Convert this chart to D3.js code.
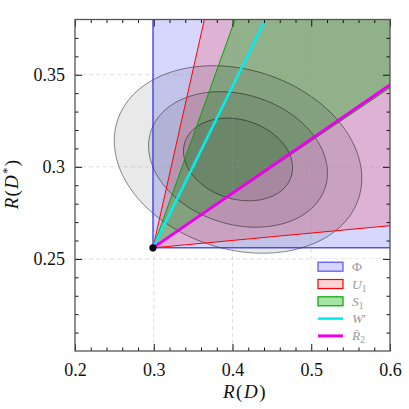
<!DOCTYPE html>
<html>
<head>
<meta charset="utf-8">
<script src="https://cdn.jsdelivr.net/npm/d3@7"></script>
<style>
body { margin: 0; background: #fff; }
</style>
</head>
<body>
<script>
var width = 409, height = 409;
var serif = "'Liberation Serif', 'DejaVu Serif', serif";

// SM prediction (origin of the cones)
var smPoint = [0.299, 0.256];
// cone edges as slopes dR(D*)/dR(D) measured from the SM point
var u1Slopes = [0.040, 1.90];
var s1Slopes = [0.289, 1.19];
var wSlope = 0.868;
var r2Slope = 0.294;

// measurement: mean, sigma, correlation, delta chi2 of the contours
var measMean = [0.407, 0.304];
var measSigma = [0.0457, 0.0148];
var measRho = -0.20;
var chi2Levels = [11.83, 6.18, 2.30];

var xTicks = [0.2, 0.3, 0.4, 0.5, 0.6];
var yTicks = [0.25, 0.3, 0.35];
var xGrid = [0.3, 0.4, 0.5];
var yGrid = [0.25, 0.3, 0.35];

var legendNames = ["Φ", "U", "S", "W", "R\u0304"];
var legendSubs = ["", "1", "1", "′", "2"];

var x = d3.scaleLinear().domain([0.2, 0.6]).range([75, 390]);
var y = d3.scaleLinear().domain([0.2, 0.38]).range([351, 19.5]);

var svg = d3.select("body").append("svg")
    .attr("width", width)
    .attr("height", height);

svg.append("clipPath").attr("id", "plot")
    .append("rect")
    .attr("x", x(0.2)).attr("y", y(0.38))
    .attr("width", x(0.6) - x(0.2)).attr("height", y(0.2) - y(0.38));

var plot = svg.append("g").attr("clip-path", "url(#plot)");

var line = d3.line().x(d => x(d[0])).y(d => y(d[1]));

function quadrant() {
    var o = smPoint;
    return [o, [o[0] + 1, o[1]], [o[0] + 1, o[1] + 1], [o[0], o[1] + 1], o];
}
function cone(s) {
    var o = smPoint;
    return [o, [o[0] + 1, o[1] + s[0]], [o[0] + 1, o[1] + 1], [o[0] + 1 / s[1], o[1] + 1], o];
}
function ray(s) {
    var o = smPoint;
    return [o, [o[0] + 1, o[1] + s]];
}

var regions = [
    {pts: quadrant(), fill: "rgba(0,0,255,0.16)", stroke: "rgba(30,30,240,0.75)", w: 1.5},
    {pts: cone(u1Slopes), fill: "rgba(255,0,0,0.17)", stroke: "#ff0000", w: 1},
    {pts: cone(s1Slopes), fill: "rgba(0,175,0,0.35)", stroke: "#00a800", w: 1}
];

plot.selectAll(".fill")
    .data(regions)
    .enter().append("path")
    .attr("class", "fill")
    .attr("d", d => line(d.pts))
    .attr("fill", d => d.fill)
    .attr("stroke", "none");

// confidence contours
function ellipse(k2) {
    var k = Math.sqrt(k2), pts = [];
    for (var i = 0; i <= 120; i++) {
        var t = i / 120 * 2 * Math.PI;
        pts.push([
            measMean[0] + k * measSigma[0] * Math.cos(t),
            measMean[1] + k * measSigma[1] * (measRho * Math.cos(t) + Math.sqrt(1 - measRho * measRho) * Math.sin(t))
        ]);
    }
    return pts;
}

plot.selectAll(".ell")
    .data(chi2Levels)
    .enter().append("path")
    .attr("class", "ell")
    .attr("d", d => line(ellipse(d)) + "Z")
    .attr("fill", "rgba(0,0,0,0.085)")
    .attr("stroke", "rgba(0,0,0,0.5)")
    .attr("stroke-width", 0.9);

// grid
var grid = plot.append("g");
grid.selectAll(".gx").data(xGrid).enter().append("line")
    .attr("x1", d => x(d)).attr("x2", d => x(d))
    .attr("y1", y(0.2)).attr("y2", y(0.38));
grid.selectAll(".gy").data(yGrid).enter().append("line")
    .attr("x1", x(0.2)).attr("x2", x(0.6))
    .attr("y1", d => y(d)).attr("y2", d => y(d));
grid.selectAll("line")
    .attr("stroke", "rgba(150,150,150,0.4)")
    .attr("stroke-width", 0.8)
    .attr("stroke-dasharray", "4,3");

plot.selectAll(".edge")
    .data(regions)
    .enter().append("path")
    .attr("class", "edge")
    .attr("d", d => line(d.pts))
    .attr("fill", "none")
    .attr("stroke", d => d.stroke)
    .attr("stroke-width", d => d.w);

plot.append("path").attr("d", line(ray(wSlope)))
    .attr("stroke", "#00eeee").attr("stroke-width", 2.6).attr("fill", "none");
plot.append("path").attr("d", line(ray(r2Slope)))
    .attr("stroke", "#ee00ee").attr("stroke-width", 3).attr("fill", "none");

svg.append("circle")
    .attr("cx", x(smPoint[0])).attr("cy", y(smPoint[1]))
    .attr("r", 3.6).attr("fill", "#000");

// legend
var leg = svg.append("g");
leg.append("rect")
    .attr("x", 311).attr("y", 259).attr("width", 78).attr("height", 91)
    .attr("fill", "rgba(255,255,255,0.85)");

var rows = leg.selectAll(".row")
    .data(legendNames)
    .enter().append("g")
    .attr("transform", (d, i) => "translate(318," + (266.7 + i * 17.3) + ")");

rows.each(function (d, i) {
    var g = d3.select(this);
    if (i < 3) {
        g.append("rect")
            .attr("x", 0).attr("y", -4.5).attr("width", 25).attr("height", 9)
            .attr("fill", regions[i].fill)
            .attr("stroke", regions[i].stroke)
            .attr("stroke-width", 1.2);
    } else {
        g.append("line")
            .attr("x1", 0).attr("x2", 25).attr("y1", 0).attr("y2", 0)
            .attr("stroke", i == 3 ? "#00eeee" : "#ee00ee")
            .attr("stroke-width", i == 3 ? 2.6 : 3);
    }
    var t = g.append("text")
        .attr("x", 34).attr("y", 4.5)
        .style("font-family", serif)
        .style("font-size", "13.5px")
        .attr("fill", "#999")
        .style("font-style", i == 0 ? "normal" : "italic")
        .text(d);
    if (legendSubs[i] == "′") {
        t.append("tspan").style("font-style", "normal").text("′");
    } else if (legendSubs[i]) {
        t.append("tspan").style("font-size", "9.5px").style("font-style", "normal")
            .attr("dy", 3).text(legendSubs[i]);
    }
});

// axes
var xMinor = d3.range(0.22, 0.6, 0.02).filter(v => Math.abs(v * 10 - Math.round(v * 10)) > 1e-6);
var yMinor = d3.range(0.21, 0.38, 0.01).filter(v => Math.abs(v * 20 - Math.round(v * 20)) > 1e-6);

function axisGroup(ax, tr) {
    var g = svg.append("g").attr("transform", tr).call(ax);
    g.select(".domain").remove();
    g.selectAll(".tick line").attr("stroke", "#111").attr("stroke-width", 1);
    return g;
}

var fmt = d3.format("");
axisGroup(d3.axisBottom(x).tickValues(xTicks).tickSize(-7).tickPadding(12).tickFormat(fmt),
    "translate(0," + y(0.2) + ")");
axisGroup(d3.axisBottom(x).tickValues(xMinor).tickSize(-3.5).tickFormat(""), "translate(0," + y(0.2) + ")");
axisGroup(d3.axisTop(x).tickValues(xTicks).tickSize(-7).tickFormat(""), "translate(0," + y(0.38) + ")");
axisGroup(d3.axisTop(x).tickValues(xMinor).tickSize(-3.5).tickFormat(""), "translate(0," + y(0.38) + ")");

axisGroup(d3.axisLeft(y).tickValues(yTicks).tickSize(-7).tickPadding(10).tickFormat(fmt),
    "translate(" + x(0.2) + ",0)");
axisGroup(d3.axisLeft(y).tickValues(yMinor).tickSize(-3.5).tickFormat(""), "translate(" + x(0.2) + ",0)");
axisGroup(d3.axisRight(y).tickValues(yTicks).tickSize(-7).tickFormat(""), "translate(" + x(0.6) + ",0)");
axisGroup(d3.axisRight(y).tickValues(yMinor).tickSize(-3.5).tickFormat(""), "translate(" + x(0.6) + ",0)");

svg.selectAll(".tick text")
    .style("font-family", serif)
    .style("font-size", "18px")
    .attr("fill", "#111");

svg.append("rect")
    .attr("x", x(0.2)).attr("y", y(0.38))
    .attr("width", x(0.6) - x(0.2)).attr("height", y(0.2) - y(0.38))
    .attr("fill", "none")
    .attr("stroke", "#555")
    .attr("stroke-width", 1.3);

// axis labels
var xl = svg.append("text")
    .attr("x", 245).attr("y", 398)
    .attr("text-anchor", "middle")
    .style("font-family", serif)
    .style("font-size", "19px")
    .attr("letter-spacing", 1.5)
    .attr("fill", "#111");
xl.append("tspan").style("font-style", "italic").text("R");
xl.append("tspan").text("(");
xl.append("tspan").style("font-style", "italic").text("D");
xl.append("tspan").text(")");

var yl = svg.append("text")
    .attr("transform", "translate(18,184) rotate(-90)")
    .attr("text-anchor", "middle")
    .style("font-family", serif)
    .style("font-size", "19px")
    .attr("letter-spacing", 1.2)
    .attr("fill", "#111");
yl.append("tspan").style("font-style", "italic").text("R");
yl.append("tspan").text("(");
yl.append("tspan").style("font-style", "italic").text("D");
yl.append("tspan").style("font-size", "13px").attr("dy", -7).text("*");
yl.append("tspan").attr("dy", 7).text(")");
</script>
</body>
</html>
